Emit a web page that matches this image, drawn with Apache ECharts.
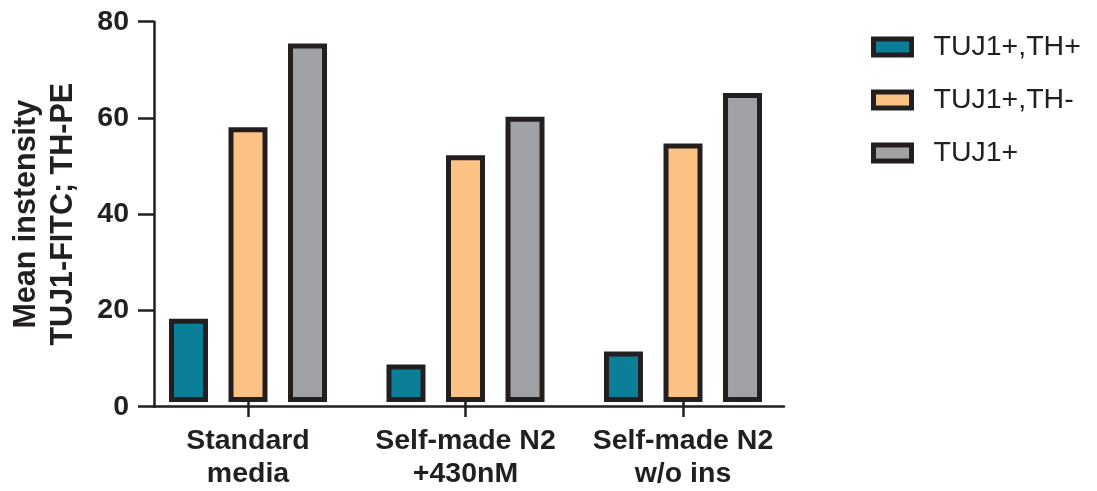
<!DOCTYPE html>
<html><head><meta charset="utf-8">
<script src="https://cdn.jsdelivr.net/npm/echarts@6/dist/echarts.min.js"></script>
<style>html,body{margin:0;padding:0;background:#fff}#c{width:1097px;height:491px}</style>
</head><body><div id="c"></div>
<script>
const categories = ['Standard\nmedia', 'Self-made N2\n+430nM', 'Self-made N2\nw/o ins'];
const seriesNames = ['TUJ1+,TH+', 'TUJ1+,TH-', 'TUJ1+'];
const tujThPos = [17.5, 7.9, 10.6];
const tujThNeg = [57.8, 51.9, 54.4];
const tujAll = [75.4, 60.0, 65.0];
const yTicks = [0, 20, 40, 60, 80];

const colors = ['#0b7f98', '#fbc283', '#a1a2a6'];
const ink = '#231f20';
const font = 'Liberation Sans';
const chart = echarts.init(document.getElementById('c'));
const values = [tujThPos, tujThNeg, tujAll];
chart.setOption({
  animation: false,
  textStyle: { fontFamily: font },
  grid: [
    { left: 139.25, width: 652.5, top: 21.7, bottom: 84.3 },
    { left: 150, right: 313, top: 21.7, bottom: 84.3 }
  ],
  legend: {
    left: 866, top: 26, orient: 'vertical', icon: 'rect', itemWidth: 38, itemHeight: 16, itemGap: 21,
    itemStyle: { borderWidth: 5, borderColor: ink },
    textStyle: { fontSize: 28.5, color: ink, fontFamily: font, lineHeight: 32, padding: [0, 0, 0, 17] },
    data: seriesNames
  },
  xAxis: [
    { type: 'category', gridIndex: 0, data: categories,
      axisLine: { show: false },
      axisTick: { show: true, alignWithLabel: true, length: 15, lineStyle: { color: ink, width: 2.5 } },
      axisLabel: { interval: 0, fontSize: 28.5, fontWeight: 'bold', color: ink, lineHeight: 33, margin: 23, fontFamily: font } },
    { type: 'value', gridIndex: 1, min: 0, max: 1,
      axisLine: { show: true, lineStyle: { color: ink, width: 2.5 } },
      axisTick: { show: false }, axisLabel: { show: false }, splitLine: { show: false } }
  ],
  yAxis: [
    { type: 'value', gridIndex: 0, min: 0, max: 80, interval: 20, show: false },
    { type: 'value', gridIndex: 1, min: yTicks[0], max: yTicks[yTicks.length - 1], interval: 20,
      name: 'Mean instensity\nTUJ1-FITC; TH-PE', nameLocation: 'middle', nameGap: 72,
      nameTextStyle: { fontSize: 30.5, fontWeight: 'bold', color: ink, lineHeight: 37, fontFamily: font },
      axisLine: { show: true, lineStyle: { color: ink, width: 2.5 } },
      axisTick: { show: true, length: 16, lineStyle: { color: ink, width: 2.5 } },
      axisLabel: { fontSize: 28.5, fontWeight: 'bold', color: ink, margin: 25, fontFamily: font },
      splitLine: { show: false } }
  ],
  series: seriesNames.map((n, i) => ({
    name: n, type: 'bar', xAxisIndex: 0, yAxisIndex: 0,
    data: values[i], barWidth: 39, barGap: '52.6%',
    itemStyle: { color: colors[i], borderColor: ink, borderWidth: 5 }
  }))
});
</script></body></html>
